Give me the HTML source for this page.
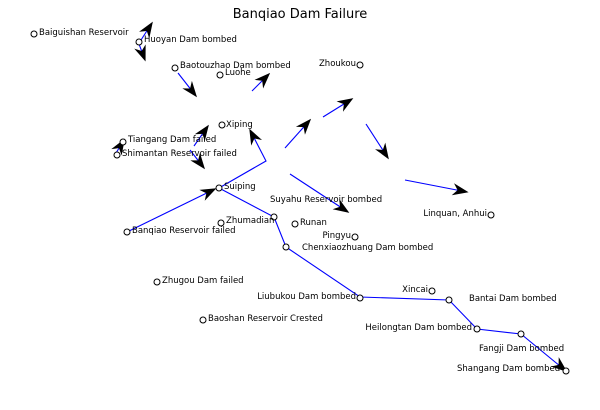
<!DOCTYPE html>
<html><head><style>body{margin:0;background:#fff}svg text{font-family:"DejaVu Sans",sans-serif;font-size:8.5px;fill:#000}</style></head><body>
<svg width="600" height="405" viewBox="0 0 600 405" xmlns="http://www.w3.org/2000/svg">
<defs>
<marker id="b" viewBox="0 0 10 10" refX="9" refY="5" markerWidth="16" markerHeight="16" orient="auto" markerUnits="userSpaceOnUse"><path d="M0,1.2 L10,5 L0,8.8 L3,5 Z" fill="#000"/></marker></defs>
<text x="300" y="18" text-anchor="middle" style="font-size:13px">Banqiao Dam Failure</text>
<g stroke="#00f" stroke-width="1.1" fill="none">
<polyline points="219,188 266,161 250,130" marker-end="url(#b)"/>
<line x1="127" y1="232" x2="215" y2="189" marker-end="url(#b)"/>
<polyline points="219,188 274,217 286,247 360,297 449,300 477,329 521,334 566,371" marker-end="url(#b)"/>
<line x1="141" y1="40" x2="152" y2="23" marker-end="url(#b)"/>
<line x1="139" y1="44" x2="145" y2="60" marker-end="url(#b)"/>
<line x1="178" y1="73" x2="196" y2="96" marker-end="url(#b)"/>
<line x1="252" y1="91" x2="269" y2="74" marker-end="url(#b)"/>
<line x1="194" y1="146" x2="208" y2="126" marker-end="url(#b)"/>
<line x1="190" y1="150" x2="204" y2="168" marker-end="url(#b)"/>
<line x1="116" y1="153" x2="124" y2="140" marker-end="url(#b)"/>
<line x1="285" y1="148" x2="310" y2="120" marker-end="url(#b)"/>
<line x1="323" y1="117" x2="352" y2="99" marker-end="url(#b)"/>
<line x1="366" y1="124" x2="388" y2="158" marker-end="url(#b)"/>
<line x1="405" y1="180" x2="467" y2="192" marker-end="url(#b)"/>
<line x1="290" y1="174" x2="348" y2="212" marker-end="url(#b)"/>
</g>
<g fill="#fff" stroke="#000" stroke-width="1">
<circle cx="34" cy="34" r="3"/><circle cx="139" cy="42" r="3"/><circle cx="175" cy="68" r="3"/><circle cx="220" cy="75" r="3"/><circle cx="360" cy="65" r="3"/><circle cx="222" cy="125" r="3"/><circle cx="123" cy="142" r="3"/><circle cx="117" cy="155" r="3"/><circle cx="219" cy="188" r="3"/><circle cx="221" cy="223" r="3"/><circle cx="295" cy="224" r="3"/><circle cx="355" cy="237" r="3"/><circle cx="491" cy="215" r="3"/><circle cx="127" cy="232" r="3"/><circle cx="274" cy="217" r="3"/><circle cx="286" cy="247" r="3"/><circle cx="157" cy="282" r="3"/><circle cx="203" cy="320" r="3"/><circle cx="360" cy="298" r="3"/><circle cx="432" cy="291" r="3"/><circle cx="449" cy="300" r="3"/><circle cx="477" cy="329" r="3"/><circle cx="521" cy="334" r="3"/><circle cx="566" cy="371" r="3"/>
</g>
<text x="39" y="35">Baiguishan Reservoir</text>
<text x="144" y="42">Huoyan Dam bombed</text>
<text x="180" y="68">Baotouzhao Dam bombed</text>
<text x="225" y="75">Luohe</text>
<text x="356" y="66" text-anchor="end">Zhoukou</text>
<text x="226" y="127">Xiping</text>
<text x="128" y="142">Tiangang Dam failed</text>
<text x="122" y="156">Shimantan Reservoir failed</text>
<text x="224" y="189">Suiping</text>
<text x="270" y="202">Suyahu Reservoir bombed</text>
<text x="226" y="223">Zhumadian</text>
<text x="300" y="225">Runan</text>
<text x="351" y="238" text-anchor="end">Pingyu</text>
<text x="487" y="216" text-anchor="end">Linquan, Anhui</text>
<text x="132" y="233">Banqiao Reservoir failed</text>
<text x="302" y="250">Chenxiaozhuang Dam bombed</text>
<text x="162" y="283">Zhugou Dam failed</text>
<text x="208" y="321">Baoshan Reservoir Crested</text>
<text x="356" y="299" text-anchor="end">Liubukou Dam bombed</text>
<text x="428" y="292" text-anchor="end">Xincai</text>
<text x="469" y="301">Bantai Dam bombed</text>
<text x="472" y="330" text-anchor="end">Heilongtan Dam bombed</text>
<text x="479" y="351">Fangji Dam bombed</text>
<text x="457" y="371">Shangang Dam bombed</text>
</svg>
</body></html>
